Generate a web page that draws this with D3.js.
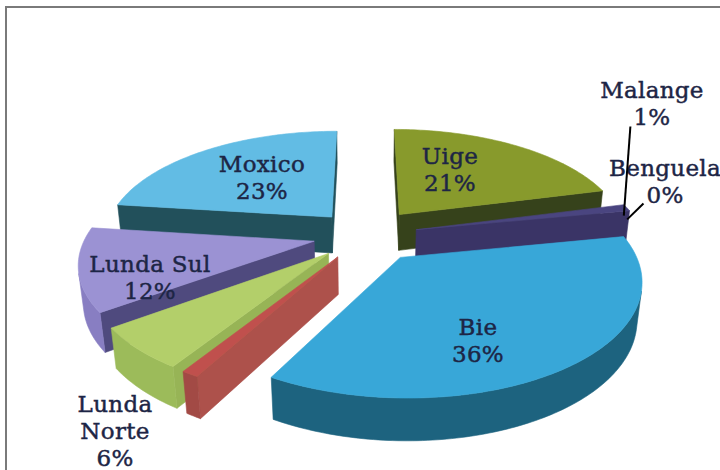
<!DOCTYPE html>
<html><head><meta charset="utf-8">
<script src="https://cdn.jsdelivr.net/npm/d3@7"></script>
<style>html,body{margin:0;padding:0;background:#fff;} svg{display:block}</style>
</head><body><svg id="chart" width="720" height="470"></svg>
<script>
// ---------- data ----------
const categories = ["Uige", "Malange", "Benguela", "Bie", "", "Lunda Norte", "Lunda Sul", "Moxico"];
const values     = [21, 1, 0, 36, 1, 6, 12, 23];
// ---------- style ----------
const topColors  = ["#889a2c", "#4a4580", "#2e6f8a", "#38a7d8", "#c0504d", "#b3cf6a", "#9b92d3", "#62bce4"];
const faceColors = ["#36421b", "#3a3466", "#1e4a58", "#1f6580", "#ad514b", "#97b456", "#4f4a7e", "#22505b"];
const wallColors = ["#5a6a1f", "#36315e", "#1e4a58", "#1d637f", "#a24a45", "#9cbb5a", "#887ec2", "#2b7893"];
const explode    = [0.25, 0.23, 0.23, 0.25, 0.23, 0.23, 0.23, 0.23];
const labelPolar = [[31.34, 0.7985], [45.68, 2.242], [68.95, 1.5457], [153.35, 0.9372], null, [210.91, 1.6151], [247.17, 0.9582], [319.86, 0.7783]];
const labelWrap  = [false, false, false, false, false, true, false, false];
const leader     = [false, true, true, false, false, false, false, false];

// ---------- projection ----------
const svg = d3.select("#chart");
const cx = 365.5, cy = 235, f = 1140, dist = 5, elev = Math.asin(534 / 1140);
const ce = Math.cos(elev), se = Math.sin(elev);
const depth = 0.185, R = 1;
function proj(X, Y, Z) {
  const yc = Y * ce + Z * se, zc = Z * ce - Y * se, w = dist + zc;
  return [cx + f * X / w, cy - f * yc / w, zc];
}
const camera = [0, dist * se, -dist * ce];
const dot = (a, b) => a[0]*b[0] + a[1]*b[1] + a[2]*b[2];
const sub = (a, b) => [a[0]-b[0], a[1]-b[1], a[2]-b[2]];

const total = d3.sum(values);
const arcs = d3.pie().sort(null).value(d => d)(values);
const line = d3.line().x(p => p[0]).y(p => p[1]);

// frame
svg.append("path").attr("d", "M6,470V7H720").attr("fill", "none").attr("stroke", "#7a7a7a").attr("stroke-width", 2);

const geo = arcs.map((a, i) => {
  const t0 = a.startAngle, t1 = a.endAngle, tm = (t0 + t1) / 2;
  const ex = explode[i] * Math.sin(tm), ez = explode[i] * Math.cos(tm);
  const rim = (t, Y) => proj(ex + R * Math.sin(t), Y, ez + R * Math.cos(t));
  const apex = Y => proj(ex, Y, ez);
  const n = Math.max(2, Math.ceil((t1 - t0) / (Math.PI / 180)));
  const ts = d3.range(n + 1).map(k => t0 + (t1 - t0) * k / n);
  const top = [apex(0), ...ts.map(t => rim(t, 0))];
  const vis = t => {
    const P = [ex + Math.sin(t), -depth / 2, ez + Math.cos(t)];
    return dot([Math.sin(t), 0, Math.cos(t)], sub(camera, P)) > 0;
  };
  const walls = [];
  let run = null;
  for (let k = 0; k < n; k++) {
    if (vis((ts[k] + ts[k + 1]) / 2)) {
      if (!run) { run = [ts[k]]; walls.push(run); }
      run.push(ts[k + 1]);
    } else run = null;
  }
  const wallPolys = walls.map(r => [...r.map(t => rim(t, 0)), ...r.slice().reverse().map(t => rim(t, -depth))]);
  const faceVis = (nrm, t) => {
    const P = [ex + 0.5 * Math.sin(t), -depth / 2, ez + 0.5 * Math.cos(t)];
    return dot(nrm, sub(camera, P)) > 0;
  };
  const faces = [];
  if (faceVis([-Math.cos(t0), 0, Math.sin(t0)], t0)) faces.push([apex(0), rim(t0, 0), rim(t0, -depth), apex(-depth)]);
  if (faceVis([Math.cos(t1), 0, -Math.sin(t1)], t1)) faces.push([apex(0), rim(t1, 0), rim(t1, -depth), apex(-depth)]);
  const half = (t1 - t0) / 2;
  const rc = half > 1e-6 ? (2 / 3) * Math.sin(half) / half : 2 / 3;
  const zc = proj(ex + rc * Math.sin(tm), 0, ez + rc * Math.cos(tm))[2];
  return { i, t0, t1, tm, ex, ez, top, wallPolys, faces, zc, rimMid: rim(tm, 0), empty: t1 - t0 < 1e-9 };
});

const order = geo.filter(g => !g.empty).sort((a, b) => b.zc - a.zc);
const gPie = svg.append("g");
order.forEach(g => {
  const sg = gPie.append("g").attr("class", "slice");
  g.faces.forEach(p => sg.append("path").attr("d", line(p) + "Z")
    .attr("fill", faceColors[g.i]).attr("stroke", faceColors[g.i]).attr("stroke-width", 0.6));
  g.wallPolys.forEach(p => sg.append("path").attr("d", line(p) + "Z")
    .attr("fill", wallColors[g.i]).attr("stroke", wallColors[g.i]).attr("stroke-width", 0.6));
  sg.append("path").attr("d", line(g.top) + "Z")
    .attr("fill", topColors[g.i]).attr("stroke", topColors[g.i]).attr("stroke-width", 0.6);
});

// ---------- labels ----------
const fontSize = 23, lh = 27;
const gLab = svg.append("g").attr("font-family", "'DejaVu Serif', serif").attr("font-size", fontSize)
  .attr("fill", "#1d2545").attr("stroke", "#1d2545").attr("stroke-width", 0.45)
  .attr("letter-spacing", 0.3).attr("text-anchor", "middle");
categories.forEach((c, i) => {
  if (!labelPolar[i]) return;
  const ang = labelPolar[i][0] * Math.PI / 180, r = labelPolar[i][1];
  const p = proj(r * Math.sin(ang), 0, r * Math.cos(ang));
  const pct = Math.round(values[i] / total * 100) + "%";
  const lines = (labelWrap[i] ? c.split(" ") : [c]).concat([pct]);
  const y0 = p[1] - (lines.length - 1) * lh / 2;
  const t = gLab.append("text").attr("x", p[0]).attr("y", y0).attr("dominant-baseline", "central");
  lines.forEach((L, k) => t.append("tspan").attr("x", p[0]).attr("y", y0 + k * lh).text(L));
  if (leader[i]) {
    const tsp = t.selectAll("tspan").nodes();
    const last = tsp[tsp.length - 1];
    const bb = last.getBBox();
    const g = geo[i];
    svg.append("line").attr("x1", bb.x - 3).attr("y1", bb.y + bb.height - 4)
      .attr("x2", g.rimMid[0] - 3).attr("y2", g.rimMid[1] + 8)
      .attr("stroke", "#000").attr("stroke-width", 2);
  }
});
</script></body></html>
